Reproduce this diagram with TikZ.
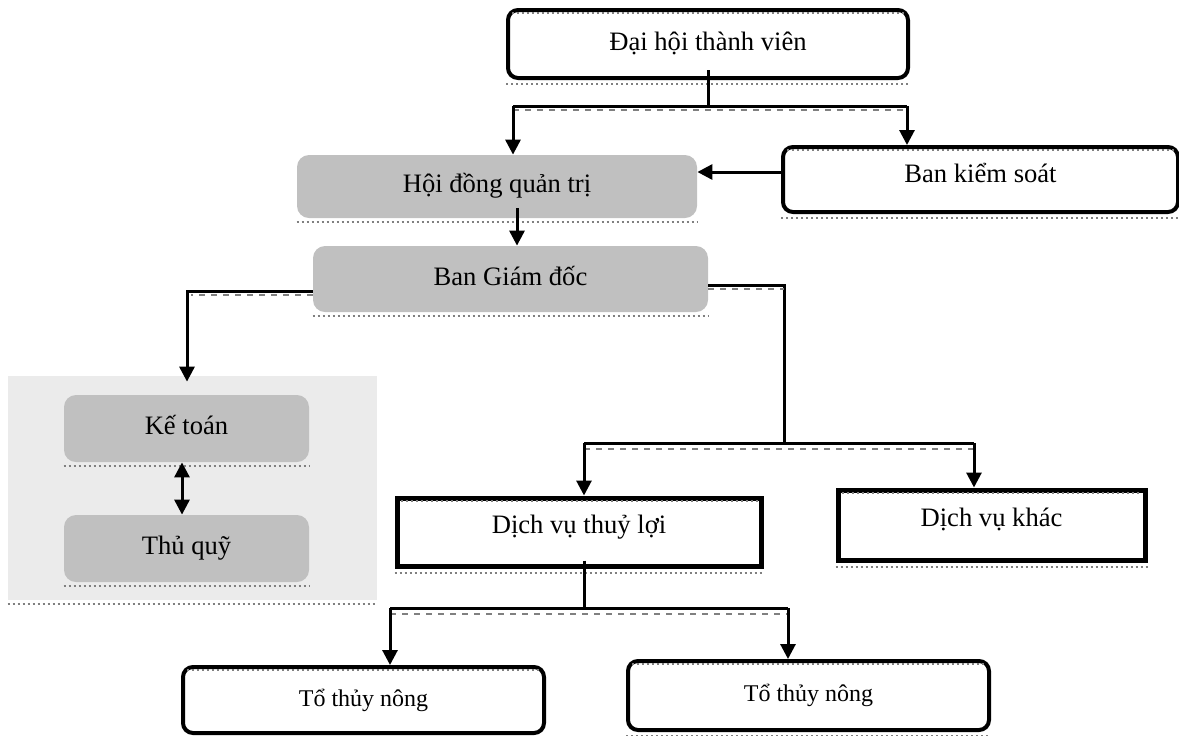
\documentclass[tikz,border=0pt]{standalone}
\usepackage{fontspec}
\setmainfont{Liberation Serif}
\usetikzlibrary{arrows.meta}

\definecolor{boxgray}{HTML}{C0C0C0}
\definecolor{panelgray}{HTML}{EBEBEB}

\begin{document}
\begin{tikzpicture}[x=0.5pt, y=-0.5pt,
    every node/.style={font=\fontsize{13.3}{16}\selectfont, text height=9pt, text depth=3pt, inner sep=0pt},
    whitebox/.style={draw, line width=2pt, rounded corners=5pt, fill=white},
    graybox/.style={fill=boxgray, rounded corners=6pt},
    plainbox/.style={draw, line width=2.5pt, fill=white, text depth=8pt},
    link/.style={line width=1.5pt},
    arrow/.style={link, -{Triangle[length=7.5pt, width=7.5pt]}},
    ghost/.style={draw=gray, line width=1.3pt, dash pattern=on 3pt off 3pt},
    dots/.style={draw=gray, line width=1pt, dash pattern=on 1pt off 1.5pt}]
  \useasboundingbox (0,0) rectangle (1179,735);

  % khoi ke toan
  \node (quy) [fill=panelgray, minimum width=184.5pt, minimum height=112pt] at (192.5,488) {};

  \node (dhtv) [whitebox, minimum width=200pt, minimum height=34pt] at (708,44) {Đại hội thành viên};
  \node (hdqt) [graybox, minimum width=200pt, minimum height=31.5pt] at (497,186.5) {Hội đồng quản trị};
  \node (bks) [whitebox, minimum width=197.5pt, minimum height=32.5pt, text depth=6pt] at (980.5,179.5) {Ban kiểm soát};
  \node (bgd) [graybox, minimum width=197.5pt, minimum height=33pt] at (510.5,279) {Ban Giám đốc};
  \node (kt) [graybox, minimum width=122.5pt, minimum height=33.5pt] at (186.5,428.5) {Kế toán};
  \node (tq) [graybox, minimum width=122.5pt, minimum height=33.5pt] at (186.5,548.5) {Thủ quỹ};
  \node (dvtl) [plainbox, minimum width=182pt, minimum height=34pt] at (579,532) {Dịch vụ thuỷ lợi};
  \node (dvk) [plainbox, minimum width=153.5pt, minimum height=35pt] at (991.5,525) {Dịch vụ khác};
  \node (ttn1) [whitebox, minimum width=180.5pt, minimum height=33pt, font=\fontsize{12}{14}\selectfont] at (363.5,700) {Tổ thủy nông};
  \node (ttn2) [whitebox, minimum width=180.5pt, minimum height=34.5pt, font=\fontsize{12}{14}\selectfont] at (808.5,695.5) {Tổ thủy nông};

  % bong mo duoi cac khung
  \foreach \n in {dhtv,hdqt,bks,bgd,kt,tq,dvtl,dvk,ttn1,ttn2,quy}
    \draw[dots] ([yshift=-2pt]\n.south west) -- ([yshift=-2pt]\n.south east);
  \foreach \n in {dhtv,bks,dvtl,dvk,ttn1,ttn2}
    \draw[dots] ([xshift=3pt, yshift=-2.5pt]\n.north west) -- ([xshift=-3pt, yshift=-2.5pt]\n.north east);

  % dai hoi -> hdqt, bks
  \coordinate (bus1l) at (513,106);
  \coordinate (bus1r) at (907,106);
  \draw[link] ([yshift=5pt]dhtv.south) -- (dhtv.south |- bus1l);
  \draw[link] (bus1l) -- (bus1r);
  \draw[ghost] ([yshift=-2pt]bus1l) -- ([yshift=-2pt]bus1r);
  \draw[arrow] (bus1l) -- (bus1l |- hdqt.north);
  \draw[arrow] (bus1r) -- (bus1r |- bks.north);

  % bks -> hdqt
  \coordinate (ks) at ([yshift=3.75pt]bks.west);
  \draw[arrow] (ks) -- (ks -| hdqt.east);

  % hdqt -> bgd
  \coordinate (qt) at ([xshift=10pt, yshift=5pt]hdqt.south);
  \draw[arrow] (qt) -- (qt |- bgd.north);

  % bgd -> ke toan
  \coordinate (gdl) at ([yshift=-6pt]bgd.west);
  \coordinate (kbend) at (187,291);
  \draw[arrow, shorten >=-3pt] (gdl) -- (kbend) -- (kbend |- quy.north);
  \draw[ghost] ([yshift=-2pt]gdl) -- ([xshift=2pt, yshift=-2pt]kbend);

  % bgd -> dich vu
  \coordinate (gdr) at ([yshift=-3pt]bgd.east);
  \coordinate (dbend) at (784,285);
  \coordinate (bus2l) at (584,443);
  \coordinate (bus2r) at (974,443);
  \draw[link] (gdr) -- (dbend) -- (dbend |- bus2l);
  \draw[ghost] ([yshift=-2pt]gdr) -- ([yshift=-2pt]dbend);
  \draw[link] (bus2l) -- (bus2r);
  \draw[ghost] ([yshift=-3pt]bus2l) -- ([yshift=-3pt]bus2r);
  \draw[arrow] (bus2l) -- (bus2l |- dvtl.north);
  \draw[arrow] (bus2r) -- (bus2r |- dvk.north);

  % dich vu thuy loi -> to thuy nong
  \coordinate (tl) at ([xshift=2.5pt, yshift=4pt]dvtl.south);
  \coordinate (bus3l) at (390,608);
  \coordinate (bus3r) at (788,608);
  \draw[link] (tl) -- (tl |- bus3l);
  \draw[link] (bus3l) -- (bus3r);
  \draw[ghost] ([yshift=-3pt]bus3l) -- ([yshift=-3pt]bus3r);
  \draw[arrow] (bus3l) -- (bus3l |- ttn1.north);
  \draw[arrow] (bus3r) -- (bus3r |- ttn2.north);

  % ke toan <-> thu quy
  \draw[link, {Triangle[length=7.5pt, width=7.5pt]}-{Triangle[length=7.5pt, width=7.5pt]}]
    ([xshift=-2.25pt]kt.south) -- ([xshift=-2.25pt]tq.north);
\end{tikzpicture}
\end{document}
